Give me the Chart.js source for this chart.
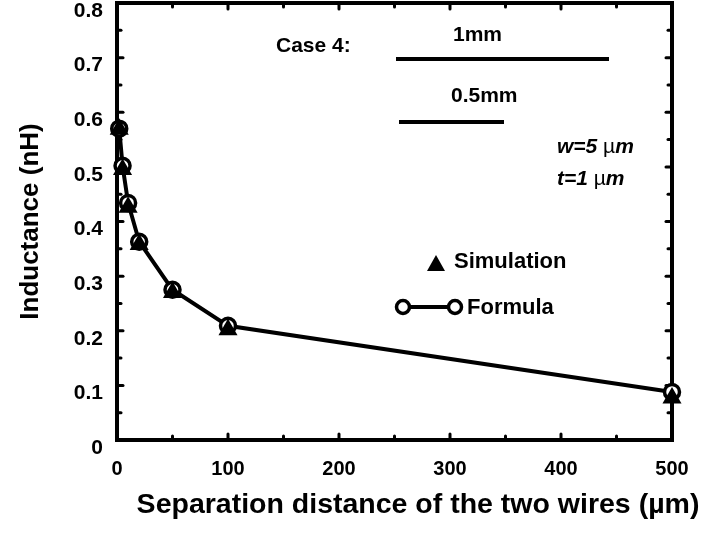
<!DOCTYPE html>
<html>
<head>
<meta charset="utf-8">
<script src="https://cdn.jsdelivr.net/npm/chart.js@4/dist/chart.umd.min.js"></script>
<style>
  body { margin: 0; background: #fff; }
  #wrap { width: 706px; height: 535px; }
</style>
</head>
<body>
<div id="wrap"><canvas id="myChart" width="706" height="535"></canvas></div>
<script>
// separation (um) and inductance (nH)
const separation = [2, 5, 10, 20, 50, 100, 500];
const formulaL = [0.57, 0.502, 0.434, 0.363, 0.275, 0.209, 0.088];
const simulationL = [0.569, 0.495, 0.426, 0.358, 0.27, 0.202, 0.077];

const FONT = "'Liberation Sans', Arial, sans-serif";

function pts(xs, ys) {
    return xs.map((x, i) => ({ x: x, y: ys[i] }));
}

// frame with inward ticks, drawn on the library's scales
const framePlugin = {
    id: 'frame',
    beforeDatasetsDraw(chart) {
        const ctx = chart.ctx;
        const a = chart.chartArea;
        const xs = chart.scales.x, ys = chart.scales.y;
        ctx.save();
        ctx.strokeStyle = '#000';
        ctx.lineCap = 'round';
        ctx.lineWidth = 3;
        for (let v = 50; v < 500; v += 50) {
            const px = xs.getPixelForValue(v);
            const len = v % 100 === 0 ? 6 : 4;
            ctx.beginPath(); ctx.moveTo(px, a.bottom); ctx.lineTo(px, a.bottom - len); ctx.stroke();
            ctx.beginPath(); ctx.moveTo(px, a.top); ctx.lineTo(px, a.top + len); ctx.stroke();
        }
        for (let v = 0.05; v < 0.79; v += 0.05) {
            const py = ys.getPixelForValue(v);
            const len = Math.round(v * 100) % 10 === 0 ? 6 : 4;
            ctx.beginPath(); ctx.moveTo(a.left, py); ctx.lineTo(a.left + len, py); ctx.stroke();
            ctx.beginPath(); ctx.moveTo(a.right, py); ctx.lineTo(a.right - len, py); ctx.stroke();
        }
        ctx.lineCap = 'butt';
        ctx.lineWidth = 4;
        ctx.strokeRect(a.left, a.top, a.right - a.left, a.bottom - a.top);
        ctx.restore();
    },
    afterDraw(chart) {
        const ctx = chart.ctx;
        ctx.save();
        ctx.fillStyle = '#000';
        ctx.strokeStyle = '#000';
        ctx.textBaseline = 'middle';
        ctx.textAlign = 'center';

        // x axis title
        ctx.font = 'bold 28.5px ' + FONT;
        ctx.fillText('Separation distance of the two wires (\u00b5m)', 418, 505);

        ctx.textAlign = 'left';
        ctx.font = 'bold 21px ' + FONT;
        ctx.fillText('Case 4:', 276, 46);
        ctx.fillText('1mm', 453, 35);
        ctx.fillText('0.5mm', 451, 96);
        ctx.lineWidth = 4;
        ctx.beginPath(); ctx.moveTo(396, 59); ctx.lineTo(609, 59); ctx.stroke();
        ctx.beginPath(); ctx.moveTo(399, 122); ctx.lineTo(504, 122); ctx.stroke();

        // w and t labels: italic letters, upright mu
        function mixed(parts, x, y) {
            for (const p of parts) {
                ctx.font = (p[1] ? 'italic bold 21px ' : '21px ') + FONT;
                ctx.fillText(p[0], x, y);
                x += ctx.measureText(p[0]).width;
            }
        }
        mixed([['w=5 ', true], ['\u00b5', false], ['m', true]], 557, 147);
        mixed([['t=1 ', true], ['\u00b5', false], ['m', true]], 557, 179);

        // legend
        ctx.font = 'bold 22px ' + FONT;
        ctx.fillText('Simulation', 454, 262);
        ctx.fillText('Formula', 467, 308);
        ctx.beginPath();
        ctx.moveTo(436, 255); ctx.lineTo(445, 271); ctx.lineTo(427, 271); ctx.closePath();
        ctx.fill();
        ctx.lineWidth = 4;
        ctx.beginPath(); ctx.moveTo(403, 307); ctx.lineTo(455, 307); ctx.stroke();
        ctx.lineWidth = 3.5;
        for (const cx of [403, 455]) {
            ctx.beginPath(); ctx.arc(cx, 307, 6.5, 0, Math.PI * 2);
            ctx.fillStyle = '#fff'; ctx.fill(); ctx.stroke();
        }
        ctx.restore();
    }
};

const ctx = document.getElementById('myChart').getContext('2d');
const myChart = new Chart(ctx, {
    type: 'scatter',
    data: {
        datasets: [{
            label: 'Simulation',
            data: pts(separation, simulationL),
            showLine: false,
            pointStyle: 'triangle',
            pointRadius: 11,
            backgroundColor: '#000',
            borderColor: '#000',
            borderWidth: 0,
            clip: false,
            order: 1
        }, {
            label: 'Formula',
            data: pts(separation, formulaL),
            showLine: true,
            borderColor: '#000',
            borderWidth: 4,
            pointStyle: 'circle',
            pointRadius: 7.5,
            pointBorderWidth: 3.5,
            pointBackgroundColor: '#fff',
            pointBorderColor: '#000',
            clip: false,
            order: 2
        }]
    },
    options: {
        responsive: false,
        animation: false,
        layout: { autoPadding: false, padding: { top: 3, right: 34, left: 0, bottom: 0 } },
        plugins: { legend: { display: false }, tooltip: { enabled: false } },
        scales: {
            x: {
                type: 'linear', min: 0, max: 500,
                grid: { display: false, drawTicks: false },
                border: { display: false },
                ticks: { stepSize: 100, padding: 17, color: '#000', font: { family: FONT, size: 20, weight: 'bold' } },
                afterFit(scale) { scale.height = 95; scale.paddingLeft = 0; scale.paddingRight = 0; }
            },
            y: {
                type: 'linear', min: 0, max: 0.8,
                grid: { display: false, drawTicks: false },
                border: { display: false },
                ticks: { stepSize: 0.1, padding: 14, labelOffset: 8, color: '#000',
                         font: { family: FONT, size: 21, weight: 'bold' } },
                title: { display: true, text: 'Inductance (nH)', color: '#000',
                         font: { family: FONT, size: 26, weight: 'bold' }, padding: { bottom: 0, top: 15 } },
                afterFit(scale) { scale.width = 117; scale.paddingTop = 0; scale.paddingBottom = 0; }
            }
        }
    },
    plugins: [framePlugin]
});
</script>
</body>
</html>
